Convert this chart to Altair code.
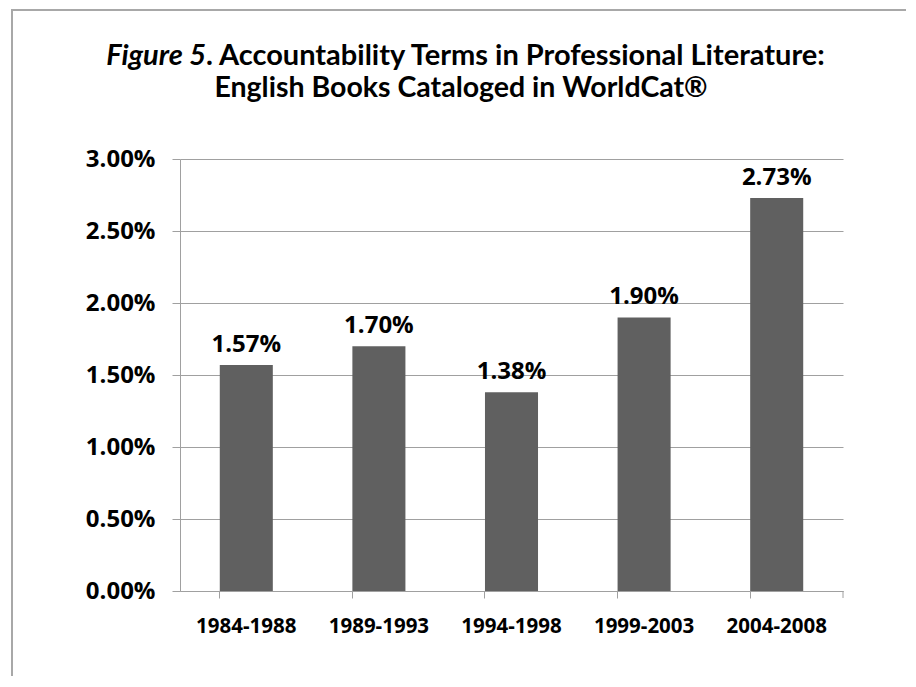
import altair as alt
import pandas as pd

periods = ["1984-1988", "1989-1993", "1994-1998", "1999-2003", "2004-2008"]
shares = [0.0157, 0.0170, 0.0138, 0.0190, 0.0273]
y_ticks = [0, 0.005, 0.01, 0.015, 0.02, 0.025, 0.03]
title_italic = "Figure 5"
title_rest = ". Accountability Terms in Professional Literature:"
title_line2 = "English Books Cataloged in WorldCat®"

df = pd.DataFrame({"period": periods, "share": shares})

W, H = 663, 432
GRAY = "#a0a0a0"
NUM_FONT = "Open Sans"
TITLE_FONT = "Lato"

x = alt.X(
    "period:N",
    sort=periods,
    scale=alt.Scale(paddingInner=0.6, paddingOuter=0.3),
    axis=alt.Axis(
        title=None, labelAngle=0, labelFont=NUM_FONT, labelFontWeight="bold",
        labelFontSize=20.5, labelColor="black", labelBaseline="alphabetic",
        labelPadding=34, tickSize=7, tickColor=GRAY, domainColor=GRAY,
        bandPosition=0, grid=False,
    ),
)
y = alt.Y(
    "share:Q",
    scale=alt.Scale(domain=[0, 0.03], nice=False),
    axis=alt.Axis(
        title=None, values=y_ticks, format=".2%", labelFont=NUM_FONT,
        labelFontWeight="bold", labelFontSize=24, labelColor="black",
        labelPadding=17, tickSize=8, tickColor=GRAY, domainColor=GRAY,
        grid=True, gridColor=GRAY, gridWidth=1,
    ),
)

base = alt.Chart(df)
bars = base.mark_bar(color="#606060").encode(x=x, y=y)
labels = base.mark_text(
    dy=-13, baseline="alphabetic", fontSize=24, fontWeight="bold",
    font=NUM_FONT, color="black",
).encode(x=x, y=y, text=alt.Text("share:Q", format=".2%"))

one = alt.Data(values=[{}])
border = alt.Chart(one).mark_rect(
    fill="transparent", stroke="#a8a8a8", strokeWidth=2
).encode(x=alt.value(-168), x2=alt.value(735), y=alt.value(-149), y2=alt.value(560))

t1a = alt.Chart(one).mark_text(
    text=title_italic, align="right", baseline="alphabetic", font=TITLE_FONT,
    fontSize=29, fontStyle="italic", fontWeight="bold", color="black",
).encode(x=alt.value(26), y=alt.value(-94))
t1b = alt.Chart(one).mark_text(
    text=title_rest, align="left", baseline="alphabetic", font=TITLE_FONT,
    fontSize=29, fontWeight="bold", color="black",
).encode(x=alt.value(26), y=alt.value(-94))
t2 = alt.Chart(one).mark_text(
    text=title_line2, align="center", baseline="alphabetic", font=TITLE_FONT,
    fontSize=28.5, fontWeight="bold", color="black",
).encode(x=alt.value(281), y=alt.value(-62))

end_tick = alt.Chart(one).mark_rule(color=GRAY).encode(
    x=alt.value(W), y=alt.value(H), y2=alt.value(H + 7)
)

chart = alt.layer(border, bars, labels, t1a, t1b, t2, end_tick).properties(
    width=W, height=H,
    autosize=alt.AutoSizeParams(type="none"),
    padding={"left": 172, "top": 151, "right": 63, "bottom": 85},
    background="white",
).configure_view(stroke=None)

chart.save("out.html", embed_options={"renderer": "svg", "actions": False})
